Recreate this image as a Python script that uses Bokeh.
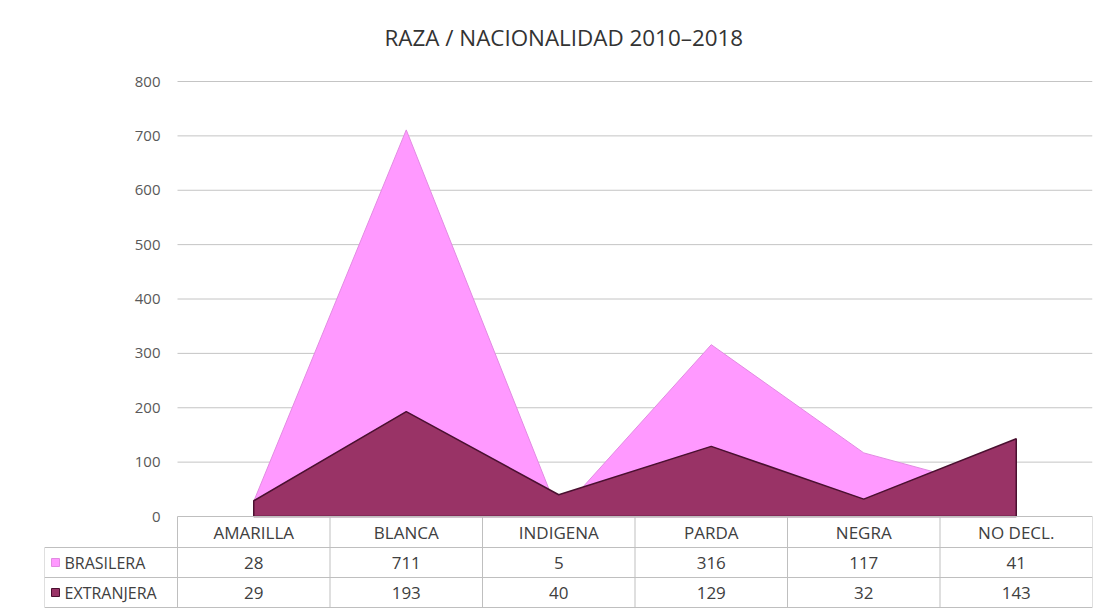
from bokeh.plotting import figure
from bokeh.models import FixedTicker, Range1d
from bokeh.core.properties import value
from bokeh.embed import file_html
from bokeh.resources import INLINE

# ---------------- data ----------------
categories = ["AMARILLA", "BLANCA", "INDIGENA", "PARDA", "NEGRA", "NO DECL."]
series_names = ["BRASILERA", "EXTRANJERA"]
brasilera = [28, 711, 5, 316, 117, 41]
extranjera = [29, 193, 40, 129, 32, 143]
y_ticks = [0, 100, 200, 300, 400, 500, 600, 700, 800]
title_text = "RAZA / NACIONALIDAD 2010\u20132018"

# ---------------- style ----------------
FONT = "Open Sans"
TEXT_COLOR = "#404040"
AXIS_TEXT = "#595959"
PINK_FILL, PINK_LINE = "#FF99FF", "#E28AE2"
DARK_FILL, DARK_LINE = "#993366", "#4A1030"
GRID = "#C4C4C4"
TABLE_LINE = "#BFBFBF"

W, H = 1100, 609
B_LEFT, B_RIGHT, B_TOP, B_BOTTOM = 44, 8, 72, 1
COL_PX = 152.5            # pixels per category
PX_Y = 435.0 / 800.0      # pixels per value unit
TOP_PAD = 81 - B_TOP      # pixels between frame top and the top gridline

n = len(categories)
xs = list(range(n))
legend_w = 133.0 / COL_PX
x_start = -0.5 - legend_w
x_end = n - 0.5
frame_h = H - B_TOP - B_BOTTOM
y_end = y_ticks[-1] + TOP_PAD / PX_Y
y_start = y_end - frame_h / PX_Y

hdr_bot = -31.0 / PX_Y
row1_bot = hdr_bot - 30.0 / PX_Y
row2_bot = row1_bot - 30.0 / PX_Y
hdr_mid = hdr_bot / 2.0
row1_mid = (hdr_bot + row1_bot) / 2.0
row2_mid = (row1_bot + row2_bot) / 2.0

p = figure(width=W, height=H,
           x_range=Range1d(x_start, x_end), y_range=Range1d(y_start, y_end),
           output_backend="svg", toolbar_location=None,
           x_axis_location=None,
           min_border_left=B_LEFT, min_border_right=B_RIGHT,
           min_border_top=B_TOP, min_border_bottom=B_BOTTOM)

p.title.text = title_text
p.title.align = "left"
p.title.offset = 340
p.title.vertical_align = "middle"
p.title.text_font = FONT
p.title.text_font_size = "22.4px"
p.title.text_font_style = "normal"
p.title.text_color = "#333333"
p.title.standoff = 38

p.outline_line_color = None
p.xgrid.visible = False
p.ygrid.visible = False
p.background_fill_color = "white"
p.border_fill_color = "white"

ax = p.yaxis[0]
ax.fixed_location = -0.5
ax.ticker = FixedTicker(ticks=y_ticks)
ax.axis_line_color = None
ax.major_tick_line_color = None
ax.minor_tick_line_color = None
ax.major_tick_out = 6
ax.major_label_standoff = 11
ax.major_label_text_font = FONT
ax.major_label_text_font_size = "15px"
ax.major_label_text_color = AXIS_TEXT

# gridlines (above zero; zero is the table's top border)
grid_vals = y_ticks[1:]
p.segment(x0=[-0.5] * len(grid_vals), x1=[x_end] * len(grid_vals),
          y0=grid_vals, y1=grid_vals, line_color=GRID, line_width=1)

# areas (not stacked, brasilera behind)
p.patch(xs + [xs[-1], xs[0]], brasilera + [0, 0],
        fill_color=PINK_FILL, line_color=PINK_LINE, line_width=1)
p.patch(xs + [xs[-1], xs[0]], extranjera + [0, 0],
        fill_color=DARK_FILL, line_color=DARK_LINE, line_width=1.5)

# data table lines
h_x0 = [-0.5, x_start, x_start, x_start]
h_y = [0, hdr_bot, row1_bot, row2_bot]
p.segment(x0=h_x0, x1=[x_end] * 4, y0=h_y, y1=h_y, line_color=TABLE_LINE, line_width=1)
v_x = [x_start] + [i - 0.5 for i in range(n + 1)]
v_y0 = [hdr_bot] + [0] * (n + 1)
p.segment(x0=v_x, x1=v_x, y0=v_y0, y1=[row2_bot] * len(v_x), line_color=TABLE_LINE, line_width=1)

tf = value(FONT)
FS = "17px"
p.text(x=xs, y=[hdr_mid] * n, text=categories, text_align="center", text_baseline="middle",
       text_font=tf, text_font_size=FS, text_color=TEXT_COLOR)
p.text(x=xs, y=[row1_mid] * n, text=[str(v) for v in brasilera], text_align="center",
       text_baseline="middle", text_font=tf, text_font_size=FS, text_color=TEXT_COLOR)
p.text(x=xs, y=[row2_mid] * n, text=[str(v) for v in extranjera], text_align="center",
       text_baseline="middle", text_font=tf, text_font_size=FS, text_color=TEXT_COLOR)

# legend keys inside the table
key_x = x_start + 11.0 / COL_PX
p.scatter(x=[key_x, key_x], y=[row1_mid, row2_mid], marker="square", size=8,
          fill_color=[PINK_FILL, DARK_FILL], line_color=[PINK_LINE, DARK_LINE])
p.text(x=[x_start + 20.0 / COL_PX] * 2, y=[row1_mid, row2_mid], text=series_names,
       text_align="left", text_baseline="middle", text_font=tf, text_font_size="16px",
       text_color=TEXT_COLOR)

open("out.html", "w").write(file_html(p, INLINE))
